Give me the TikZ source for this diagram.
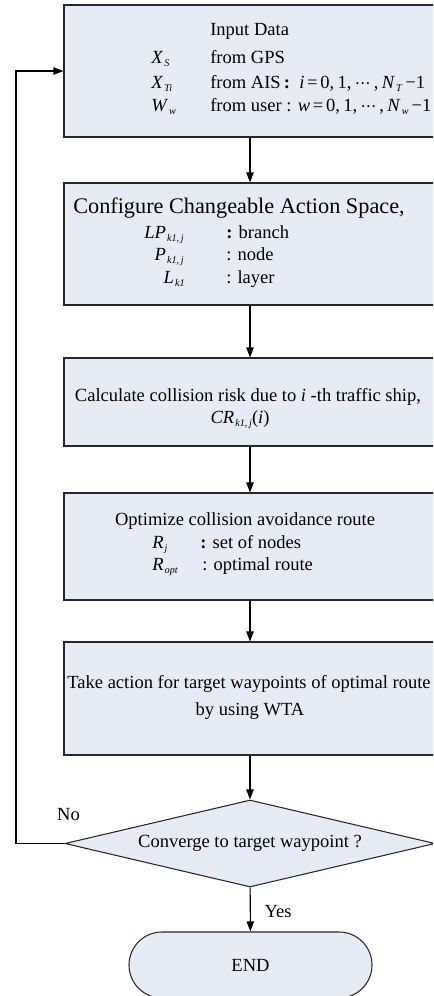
\documentclass[tikz,border=0pt]{standalone}
\usepackage{fontspec}
\usepackage{graphicx}
\setmainfont{Liberation Serif}
\newfontfamily\symfont{DejaVu Sans}
\usetikzlibrary{arrows.meta,shapes.geometric,shapes.misc}
\definecolor{boxfill}{RGB}{230,236,246}
\definecolor{edge}{RGB}{40,40,40}
% italic symbol with a small lowered index
\newcommand\sv[2]{\textit{#1}\kern0.06em\raisebox{-0.35ex}{\scalebox{0.55}{\textit{#2}}}}
\newcommand\cdotsx{{\symfont\scalebox{0.85}{⋯}}}
\newcommand\eqx{\kern0.15em=\kern0.15em}
\newcommand\cm{,\kern0.18em}
\tikzset{
  stepbox/.style={rectangle, draw=edge, fill=boxfill, line width=0.8pt,
    minimum width=279pt, inner sep=0pt},
  decision/.style={diamond, draw=edge, fill=boxfill, line width=0.8pt,
    shape aspect=4, minimum width=277.5pt, minimum height=65.25pt, inner sep=0pt,
    font=\fontsize{13.9}{16}\selectfont},
  terminal/.style={rounded rectangle, draw=edge, fill=boxfill, line width=0.8pt,
    minimum width=182.25pt, minimum height=49.5pt, inner sep=0pt,
    font=\fontsize{13.9}{16}\selectfont},
  txt/.style={inner sep=0pt, font=\fontsize{13.9}{16}\selectfont},
  bigtxt/.style={inner sep=0pt, font=\fontsize{16.7}{19}\selectfont},
  flow/.style={draw=black, line width=0.8pt, -{Triangle[length=7.5pt,width=5.5pt]}},
}
\begin{document}
\begin{tikzpicture}[x=0.75pt,y=-0.75pt]
\useasboundingbox (0,0) rectangle (433,996);
\clip (0,0) rectangle (433,996);

% process boxes
\node[stepbox, minimum height=99pt]    (input)  at (250,71)    {};
\node[stepbox, minimum height=91.5pt]  (config) at (250,244)   {};
\node[stepbox, minimum height=66pt]    (risk)   at (250,402)   {};
\node[stepbox, minimum height=80.25pt] (optim)  at (250,546.5) {};
\node[stepbox, minimum height=84.75pt] (action) at (250,698.5) {};
\node[decision] (conv) at (250,843.5) {Converge to target waypoint ?};
\node[terminal] (finish) at (250.5,965) {END};

% input data
\node[txt, anchor=mid west] (inTitle) at (210,32)  {Input Data};
\node[txt, anchor=mid west] (inXs)    at (151,60)  {\sv{X}{S}};
\node[txt, anchor=mid west] (inXsT)   at (210,60)  {from GPS};
\node[txt, anchor=mid west] (inXt)    at (151,85)  {\sv{X}{Ti}};
\node[txt, anchor=mid west] (inXtT)   at (210,85)
  {from AIS\,\textbf{:}\ \ \textit{i}\eqx 0\cm 1\cm\cdotsx\,\cm\sv{N}{T}\,−1};
\node[txt, anchor=mid west] (inWw)    at (151,108) {\sv{W}{w}};
\node[txt, anchor=mid west] (inWwT)   at (210,108)
  {from user : \textit{w}\eqx 0\cm 1\cm\cdotsx\,\cm\sv{N}{w}\,−1};

% action space
\node[bigtxt, anchor=mid west] (cfgTitle) at (73,210) {Configure Changeable Action Space,};
\node[txt, anchor=mid east] (cfgLP) at (184,235) {\sv{LP}{k1,\,j}};
\node[txt, anchor=mid west] (cfgLPT) at (226,235) {\textbf{:} branch};
\node[txt, anchor=mid east] (cfgP) at (184,257) {\sv{P}{k1,\,j}};
\node[txt, anchor=mid west] (cfgPT) at (226,257) {: node};
\node[txt, anchor=mid east] (cfgL) at (185,280) {\sv{L}{k1}};
\node[txt, anchor=mid west] (cfgLT) at (226,280) {: layer};

% collision risk
\node[txt, anchor=mid] (riskTitle) at (248,398) {Calculate collision risk due to \textit{i} -th traffic ship,};
\node[txt, anchor=mid] (riskCR) at (240,420) {\sv{CR}{k1,\,j}(\textit{i})};

% route optimisation
\node[txt, anchor=mid] (optTitle) at (245,522) {Optimize collision avoidance route};
\node[txt, anchor=mid west] (optRj)  at (152,545) {\sv{R}{j}};
\node[txt, anchor=mid west] (optRjT) at (200,545) {\textbf{:} set of nodes};
\node[txt, anchor=mid west] (optRo)  at (152,567) {\sv{R}{opt}};
\node[txt, anchor=mid west] (optRoT) at (202,567) {: optimal route};

% action
\node[txt, anchor=mid] (actA) at (249,685) {Take action for target waypoints of optimal route};
\node[txt, anchor=mid] (actB) at (250,712) {by using WTA};

% branch labels
\node[txt, anchor=mid] (lblNo)  at (68.5,817) {No};
\node[txt, anchor=mid] (lblYes) at (278,914)  {Yes};

% connectors
\draw[flow] (input)  -- (config);
\draw[flow] (config) -- (risk);
\draw[flow] (risk)   -- (optim);
\draw[flow] (optim)  -- (action);
\draw[flow] (action) -- (conv);
\draw[flow] (conv)   -- (finish);
\coordinate (loop) at (16,843.5);
\draw[flow] (conv.west) -- (loop) |- (input.west);
\end{tikzpicture}
\end{document}
